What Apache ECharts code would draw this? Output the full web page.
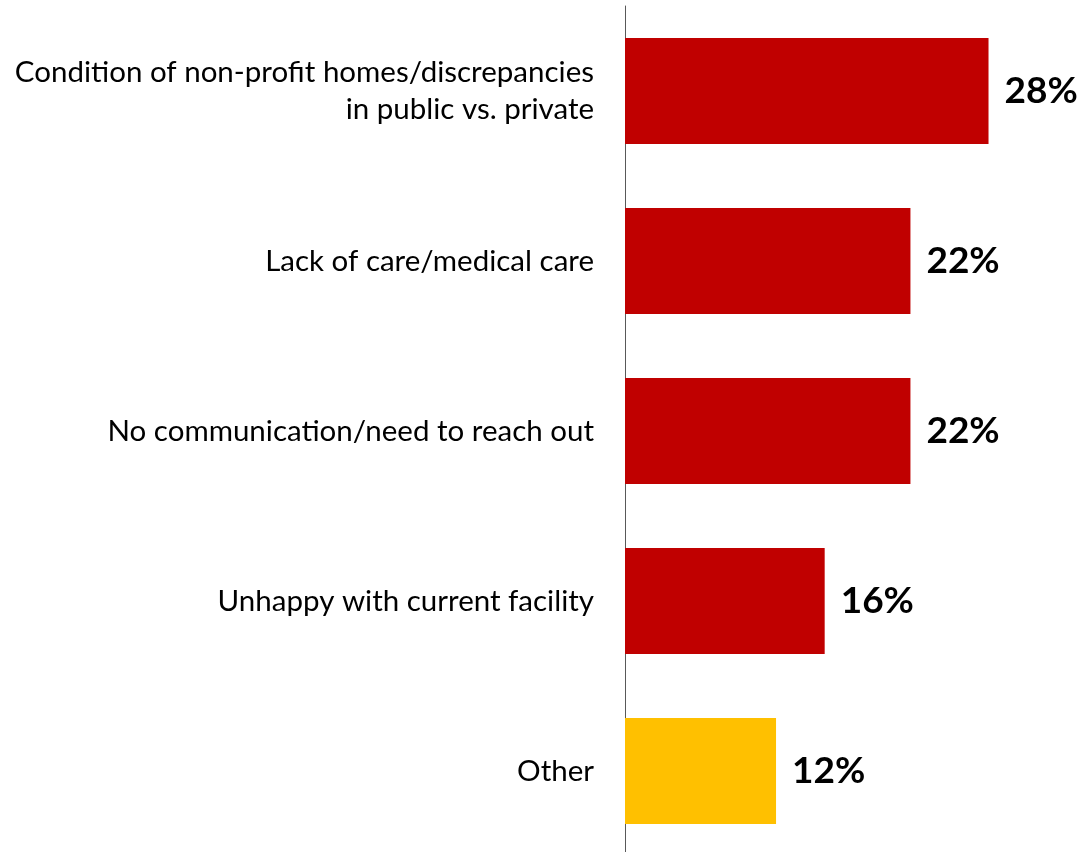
<!DOCTYPE html>
<html><head><meta charset="utf-8">
<script src="https://cdn.jsdelivr.net/npm/echarts@6/dist/echarts.min.js"></script>
<style>html,body{margin:0;padding:0;background:#fff}#c{width:1084px;height:852px}</style>
</head><body><div id="c"></div>
<script>
const categories = [
  "Condition of non-profit homes/discrepancies\nin public vs. private",
  "Lack of care/medical care",
  "No communication/need to reach out",
  "Unhappy with current facility",
  "Other"
];
const values = [28.4, 22.3, 22.3, 15.6, 11.8];
const barColors = ["#C00000", "#C00000", "#C00000", "#C00000", "#FFC000"];

const chart = echarts.init(document.getElementById('c'));
chart.setOption({
  animation: false,
  grid: { left: 625, top: 6, width: 448, height: 850, outerBoundsMode: 'none', containLabel: false },
  xAxis: { type: 'value', min: 0, max: 35, show: false },
  yAxis: {
    type: 'category', inverse: true, data: categories,
    axisLine: { show: true, lineStyle: { color: '#595959', width: 1 } },
    axisTick: { show: false },
    axisLabel: { margin: 31, color: '#000', fontSize: 29.5, fontFamily: 'Lato', lineHeight: 37, align: 'right' }
  },
  series: [{
    type: 'bar',
    data: values.map((v, i) => ({ value: v, itemStyle: { color: barColors[i] } })),
    barWidth: 106,
    label: {
      show: true, position: 'right', distance: 16,
      formatter: p => Math.round(p.value) + '%',
      color: '#000', fontSize: 37, fontWeight: 'bold', fontFamily: 'Lato'
    }
  }]
});
</script></body></html>
